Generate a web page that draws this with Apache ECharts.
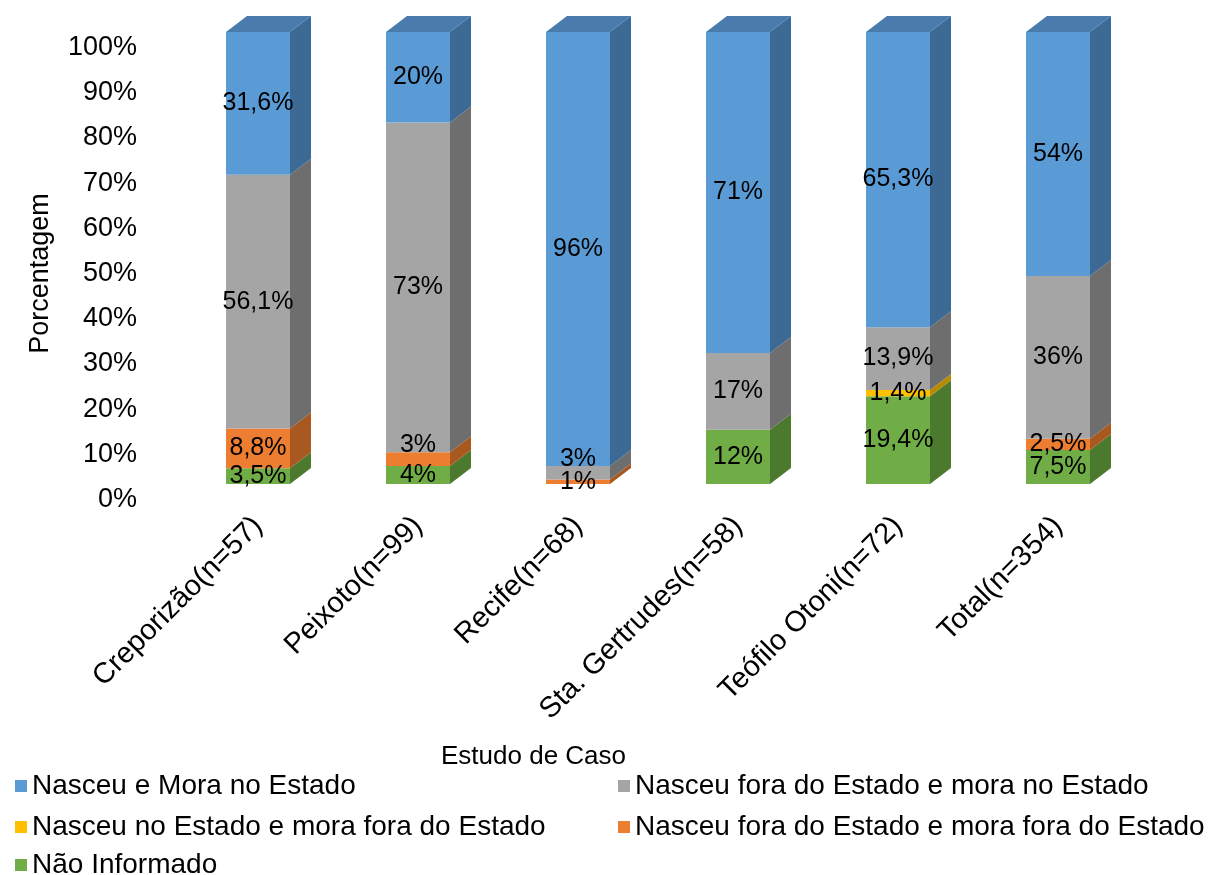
<!DOCTYPE html>
<html><head><meta charset="utf-8">
<script src="https://cdn.jsdelivr.net/npm/echarts@6/dist/echarts.min.js"></script>
<style>html,body{margin:0;padding:0;background:#fff}#c{width:1219px;height:875px}</style>
</head><body><div id="c"></div>
<script>
// ---- data ----
const categories = ['Creporizão(n=57)', 'Peixoto(n=99)', 'Recife(n=68)', 'Sta. Gertrudes(n=58)', 'Teófilo Otoni(n=72)', 'Total(n=354)'];
const yTickLabels = ['0%', '10%', '20%', '30%', '40%', '50%', '60%', '70%', '80%', '90%', '100%'];
const naoInformado = [3.5, 4, 0, 12, 19.4, 7.5];
const foraFora = [8.8, 3, 1, 0, 0, 2.5];
const estadoFora = [0, 0, 0, 0, 1.4, 0];
const foraEstado = [56.1, 73, 3, 17, 13.9, 36];
const estadoEstado = [31.6, 20, 96, 71, 65.3, 54];

const FONT = '"Liberation Sans", Arial, sans-serif';
// stack order bottom -> top
const stack = [
  { name: 'Não Informado', data: naoInformado, front: '#70AD47', side: '#4B7A2F', top: '#5E9339' },
  { name: 'Nasceu fora do Estado e mora fora do Estado', data: foraFora, front: '#ED7D31', side: '#A9581F', top: '#C96A29' },
  { name: 'Nasceu no Estado e mora fora do Estado', data: estadoFora, front: '#FFC000', side: '#B88A00', top: '#D9A300' },
  { name: 'Nasceu fora do Estado e mora no Estado', data: foraEstado, front: '#A5A5A5', side: '#6E6E6E', top: '#8A8A8A' },
  { name: 'Nasceu e Mora no Estado', data: estadoEstado, front: '#5B9BD5', side: '#3D6A94', top: '#4A7BAD' }
];
// 3D projection & label tweaks (style only)
const DX = 21, DY = 16, OFF_Y = -15.5, HALF_W = 32;
const labelNudge = { '1-1': -14, '2-3': -14 };
const fmt = v => String(v).replace('.', ',') + '%';

const bases = categories.map(() => 0);
const series = stack.map((s, si) => {
  const data = s.data.map((v, ci) => {
    const d = [ci, bases[ci], v];
    bases[ci] += v;
    return d;
  });
  return {
    type: 'custom',
    name: s.name,
    itemStyle: { color: s.front },
    encode: { x: 0, y: 2 },
    data: data,
    renderItem: function (params, api) {
      const ci = api.value(0), base = api.value(1), val = api.value(2);
      if (!val) return { type: 'group', children: [] };
      const p0 = api.coord([ci, base]);
      const p1 = api.coord([ci, base + val]);
      const cx = p0[0];
      const yb = p0[1] + OFF_Y, yt = p1[1] + OFF_Y;
      const x0 = cx - HALF_W, x1 = cx + HALF_W;
      const children = [
        { type: 'rect', shape: { x: x0, y: yt, width: x1 - x0, height: yb - yt }, style: { fill: s.front } },
        { type: 'polygon', shape: { points: [[x1, yb], [x1, yt], [x1 + DX, yt - DY], [x1 + DX, yb - DY]] }, style: { fill: s.side } }
      ];
      if (base + val >= 99.9) {
        children.push({ type: 'polygon', shape: { points: [[x0, yt], [x1, yt], [x1 + DX, yt - DY], [x0 + DX, yt - DY]] }, style: { fill: s.top } });
      }
      const nudge = labelNudge[ci + '-' + si] || 0;
      children.push({
        type: 'text', z2: 100,
        x: cx, y: (yt + yb) / 2 + nudge,
        style: { text: fmt(val), textAlign: 'center', textVerticalAlign: 'middle', fontSize: 25, fontFamily: FONT, fill: '#000' }
      });
      return { type: 'group', children: children };
    }
  };
});

const chart = echarts.init(document.getElementById('c'), null, { renderer: 'canvas' });
const legendText = { fontSize: 28, color: '#000', fontFamily: FONT, lineHeight: 30 };
function oneLegend(name, left, top) {
  return { left: left, top: top, orient: 'horizontal', icon: 'rect', itemWidth: 12, itemHeight: 12,
    data: [name], textStyle: legendText };
}
chart.setOption({
  animation: false,
  backgroundColor: '#fff',
  textStyle: { fontFamily: FONT },
  title: { text: 'Estudo de Caso', left: 436, top: 739, textStyle: { fontSize: 26, fontWeight: 'normal', color: '#000', fontFamily: FONT } },
  grid: { left: 178, right: 81, top: 47.5, bottom: 375.5, containLabel: false, outerBoundsMode: 'none' },
  xAxis: {
    type: 'category', data: categories,
    axisLine: { show: false }, axisTick: { show: false },
    axisLabel: { rotate: 45, interval: 0, fontSize: 29, color: '#000', margin: 22, fontFamily: FONT }
  },
  yAxis: {
    type: 'value', min: 0, max: 100, interval: 10,
    axisLine: { show: false }, axisTick: { show: false }, splitLine: { show: false },
    axisLabel: { formatter: v => yTickLabels[Math.round(v / 10)], fontSize: 27, color: '#000', margin: 41, fontFamily: FONT },
    name: 'Porcentagem', nameLocation: 'middle', nameRotate: 90, nameGap: 124,
    nameTextStyle: { fontSize: 27, color: '#000', fontFamily: FONT }
  },
  legend: [
    oneLegend('Nasceu e Mora no Estado', 10, 766),
    oneLegend('Nasceu fora do Estado e mora no Estado', 613, 766),
    oneLegend('Nasceu no Estado e mora fora do Estado', 10, 807),
    oneLegend('Nasceu fora do Estado e mora fora do Estado', 613, 807),
    oneLegend('Não Informado', 10, 845)
  ],
  series: series
});
</script></body></html>
